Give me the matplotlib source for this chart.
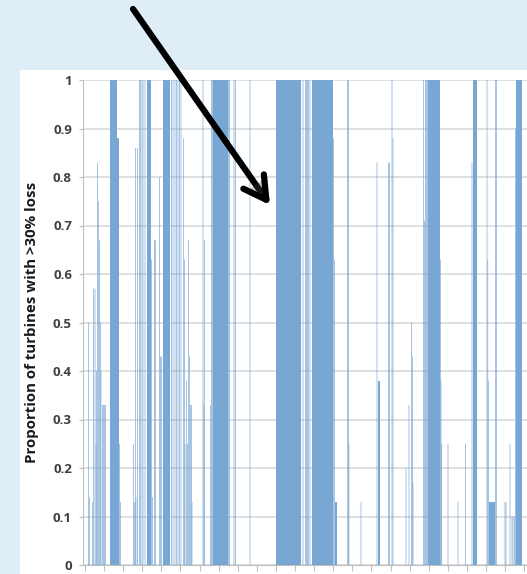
import matplotlib
matplotlib.use("Agg")
import matplotlib.pyplot as plt
import matplotlib.patheffects as pe
from matplotlib.patches import Rectangle
import numpy as np

# Periodos con racha continua (inicio, fin, proporcion)
bloque_ini = [110, 117, 147, 163, 213, 276, 312, 335, 377.5, 428, 473, 489, 516]
bloque_fin = [117, 119, 151, 170, 228, 301, 333, 337, 379.5, 440, 477, 495, 522]
bloque_h = [1.0, 0.88, 1.0, 1.0, 1.0, 1.0, 1.0, 0.13, 0.38, 1.0, 1.0, 0.13, 1.0]

# Periodos aislados (posicion, proporcion)
aislado_x = [88.5, 89.5, 92.5, 93.5, 95, 96, 96.5, 97.5, 98.5, 99.5, 100.5, 101,
             102.5, 103.5, 104.5, 105.5, 119.5, 120.5,
             133.5, 134.5, 135.5, 136, 137.5, 139.5, 140.5, 142, 143, 145,
             151.5, 152.5, 154.5, 155.5, 159.5, 160.5, 161.5,
             171.5, 173, 175, 176.5, 178, 179.5, 181, 183.5, 184.5, 185,
             186.5, 187.5, 188.5, 189.5, 190.5, 191.5, 192,
             203, 203.8, 204.5, 210.5, 211.5, 212.3, 228.5, 229.5, 234, 235.5, 250,
             303, 305.5, 306.5, 307.5, 308.5, 310, 333.5, 334.5, 347.5, 348.5, 349,
             361, 377, 388.5, 389.5, 392, 393, 406, 409, 411.5, 412.5, 413,
             423.5, 424.5, 425.5, 426.5, 427.5, 440.5, 441, 441.5, 448, 458,
             465.5, 472, 487, 487.8, 488.3, 495.5, 496.5, 505, 506, 510,
             512, 513, 514.5, 515.5]
aislado_h = [0.5, 0.14, 0.13, 0.57, 0.57, 0.25, 0.4, 0.83, 0.75, 0.67, 0.5, 0.4,
             0.33, 0.33, 0.33, 0.33, 0.25, 0.13,
             0.25, 0.13, 0.86, 0.14, 0.86, 1.0, 1.0, 1.0, 1.0, 1.0,
             0.63, 0.14, 0.67, 0.67, 0.8, 0.43, 0.43,
             1.0, 1.0, 1.0, 1.0, 1.0, 1.0, 1.0, 0.88, 0.63, 0.25,
             0.38, 0.25, 0.67, 0.43, 0.33, 0.33, 0.13,
             1.0, 0.33, 0.67, 0.33, 1.0, 1.0, 1.0, 1.0, 1.0, 1.0, 1.0,
             1.0, 1.0, 1.0, 1.0, 1.0, 1.0, 0.88, 0.63, 1.0, 1.0, 0.25,
             0.13, 0.83, 0.83, 0.83, 1.0, 0.88, 0.2, 0.33, 0.5, 0.43, 0.17,
             1.0, 0.71, 1.0, 1.0, 1.0, 0.63, 0.38, 0.25, 0.25, 0.13,
             0.25, 0.83, 1.0, 0.63, 0.38, 1.0, 1.0, 0.13, 0.13, 0.25,
             0.1, 0.1, 0.1, 0.9]

y_ticks = [0, 0.1, 0.2, 0.3, 0.4, 0.5, 0.6, 0.7, 0.8, 0.9, 1]
y_labels = ["0", "0.1", "0.2", "0.3", "0.4", "0.5", "0.6", "0.7", "0.8", "0.9", "1"]

azul = "#79a7d3"

fig = plt.figure(figsize=(5.27, 5.74), dpi=100)
fig.patch.set_facecolor("#deedf6")

# panel blanco detras de los ejes
fig.patches.append(Rectangle((20 / 527, 0), 1, 1 - 70 / 574, transform=fig.transFigure,
                             facecolor="white", edgecolor="none", zorder=-10))

ax = fig.add_axes([83 / 527, 1 - 565 / 574, 1 - 83 / 527, (565 - 80) / 574])
ax.set_facecolor("white")

anchos = np.array(bloque_fin) - np.array(bloque_ini)
ax.bar(bloque_ini, bloque_h, width=anchos, align="edge", color=azul, linewidth=0, zorder=3)
# barras finas sin ajuste a pixel: salen mas claras, como en el original
barras = ax.bar(aislado_x, aislado_h, width=0.65, color=azul, linewidth=0, zorder=3)
for b in barras:
    b.set_snap(False)

ax.set_xlim(83, 527)
ax.set_ylim(0, 1)
ax.set_yticks(y_ticks)
ax.set_yticklabels(y_labels, fontsize=9.5, fontweight="bold", color="#404040",
                   family="Open Sans")
ax.set_xticks(np.arange(85, 527, 19.1))
ax.set_xticklabels([])
ax.tick_params(axis="y", length=3, color="#bfbfbf", pad=5)
ax.tick_params(axis="x", length=4, color="#bfbfbf")
ax.grid(axis="y", color="#d9d9d9", linewidth=1.2, zorder=1)
for lado in ["top", "right"]:
    ax.spines[lado].set_visible(False)
for lado in ["left", "bottom"]:
    ax.spines[lado].set_color("#bfbfbf")

fig.text(32 / 527, 1 - 322 / 574, "Proportion of turbines with >30% loss", rotation=90,
         ha="center", va="center", fontsize=10.8, fontweight="bold", color="#1a1a1a",
         family="Open Sans")

# flecha
flecha = ax.annotate("", xy=(270 / 527, 1 - 205 / 574), xycoords="figure fraction",
                     xytext=(133 / 527, 1 - 9 / 574), textcoords="figure fraction",
                     arrowprops=dict(arrowstyle="->,head_length=1.6,head_width=0.9",
                                     color="black", lw=4.5, shrinkA=0, shrinkB=0),
                     annotation_clip=False)
flecha.arrow_patch.set_path_effects([pe.SimplePatchShadow(offset=(2, -2), alpha=0.3),
                                     pe.Normal()])
flecha.arrow_patch.set_zorder(10)

fig.savefig("out.png", dpi=100, facecolor=fig.get_facecolor())
